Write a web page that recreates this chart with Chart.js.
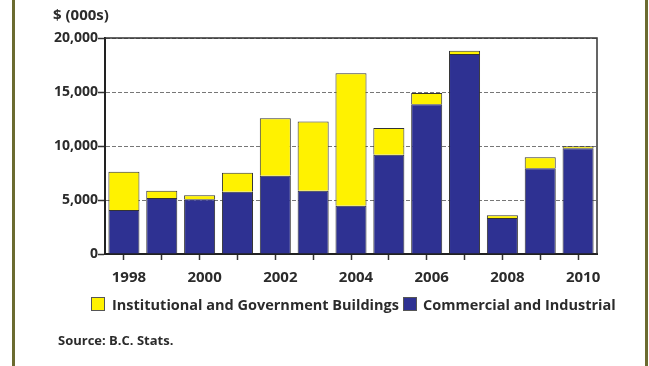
<!DOCTYPE html>
<html>
<head>
<meta charset="utf-8">
<script src="https://cdn.jsdelivr.net/npm/chart.js@4/dist/chart.umd.min.js"></script>
<style>
  html, body { margin: 0; padding: 0; background: #fff; }
  #wrap { position: relative; width: 649px; height: 366px; }
</style>
</head>
<body>
<div id="wrap"><canvas id="chart" width="649" height="366"></canvas></div>
<script>
const years = ['1998','1999','2000','2001','2002','2003','2004','2005','2006','2007','2008','2009','2010'];
const commercial = [4070, 5190, 5060, 5770, 7250, 5860, 4470, 9190, 13860, 18520, 3330, 7930, 9790];
const institutional = [3550, 670, 370, 1760, 5310, 6420, 12260, 2480, 1050, 310, 250, 1020, 180];
const yTicks = [0, 5000, 10000, 15000, 20000];

const font = "'Open Sans', 'DejaVu Sans', sans-serif";
const textColor = '#2b2b2b';

// frame, page borders, unit label, legend and source line
const extras = {
    id: 'extras',
    beforeDraw(chart) {
        const ctx = chart.ctx;
        ctx.save();
        ctx.fillStyle = '#6b6b30';
        ctx.fillRect(12, 0, 3, 366);
        ctx.fillRect(645, 0, 3, 366);
        ctx.restore();
    },
    afterDraw(chart) {
        const ctx = chart.ctx;
        const a = chart.chartArea;
        ctx.save();
        ctx.strokeStyle = '#333';
        ctx.lineWidth = 1.5;
        ctx.beginPath();
        ctx.moveTo(a.left, a.top);
        ctx.lineTo(a.right, a.top);
        ctx.lineTo(a.right, a.bottom);
        ctx.stroke();

        ctx.fillStyle = textColor;
        ctx.textBaseline = 'middle';
        ctx.font = `bold 15px ${font}`;
        ctx.fillText('$ (000s)', 53, 16);

        // legend
        const ds = chart.data.datasets;
        const items = [
            { d: ds[1], box: 91, text: 112 },
            { d: ds[0], box: 403, text: 423 }
        ];
        ctx.font = `bold 14.5px ${font}`;
        items.forEach(it => {
            ctx.fillStyle = it.d.backgroundColor;
            ctx.fillRect(it.box, 297, 13, 13);
            ctx.strokeStyle = '#555';
            ctx.lineWidth = 1;
            ctx.strokeRect(it.box + 0.5, 297.5, 13, 13);
            ctx.fillStyle = textColor;
            ctx.fillText(it.d.label, it.text, 306);
        });

        ctx.font = `bold 13px ${font}`;
        ctx.fillText('Source: B.C. Stats.', 58, 341);
        ctx.restore();
    }
};

new Chart(document.getElementById('chart'), {
    type: 'bar',
    data: {
        labels: years,
        datasets: [
            {
                label: 'Commercial and Industrial',
                data: commercial,
                backgroundColor: '#2e3192',
                borderColor: '#333',
                borderWidth: 1,
                barPercentage: 0.82,
                categoryPercentage: 1
            },
            {
                label: 'Institutional and Government Buildings',
                data: institutional,
                backgroundColor: '#fff200',
                borderColor: '#333',
                borderWidth: 1,
                barPercentage: 0.82,
                categoryPercentage: 1
            }
        ]
    },
    options: {
        responsive: false,
        animation: false,
        layout: { padding: { left: 0, right: 52, top: 38, bottom: 0 } },
        plugins: {
            legend: { display: false },
            tooltip: { enabled: false }
        },
        scales: {
            x: {
                stacked: true,
                afterFit(scale) { scale.height = 112; },
                grid: {
                    offset: false,
                    drawOnChartArea: false,
                    drawTicks: true,
                    tickLength: 6,
                    tickColor: '#333',
                    tickWidth: 1.5
                },
                border: { display: true, color: '#222', width: 2 },
                ticks: {
                    autoSkip: false,
                    maxRotation: 0,
                    padding: 9,
                    labelOffset: 5,
                    color: textColor,
                    font: { family: font, size: 15, weight: 'bold' },
                    callback: (v, i) => (i % 2 === 0 ? years[i] : '')
                }
            },
            y: {
                stacked: true,
                min: 0,
                max: 20000,
                afterFit(scale) { scale.width = 105; },
                afterBuildTicks(scale) { scale.ticks = yTicks.map(v => ({ value: v })); },
                grid: {
                    color: '#777',
                    lineWidth: 1,
                    drawTicks: true,
                    tickLength: 7,
                    tickColor: '#333',
                    tickWidth: 1.5,
                    tickBorderDash: []
                },
                border: { display: true, color: '#222', width: 2, dash: [4, 2] },
                ticks: {
                    padding: 0,
                    color: textColor,
                    font: { family: font, size: 14, weight: 'bold' },
                    callback: v => v.toLocaleString('en-US')
                }
            }
        }
    },
    plugins: [extras]
});
</script>
</body>
</html>
